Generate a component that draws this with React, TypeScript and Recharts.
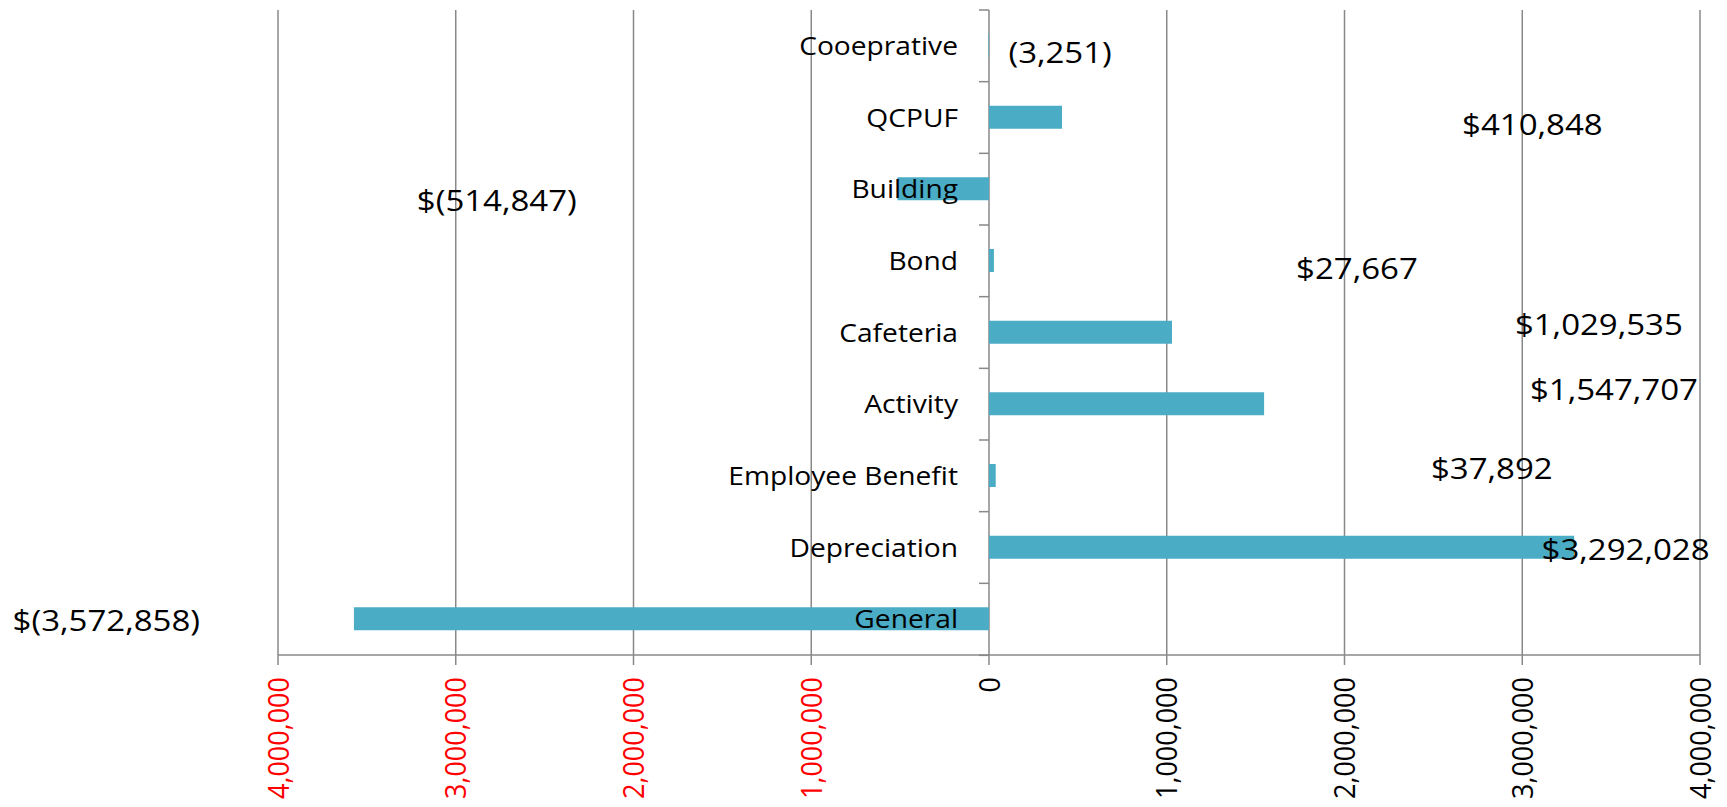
import React from 'react';
import { BarChart, Bar, XAxis, YAxis, CartesianGrid } from 'recharts';

// ---------- data ----------
const categories = [
  'Cooeprative',
  'QCPUF',
  'Building',
  'Bond',
  'Cafeteria',
  'Activity',
  'Employee Benefit',
  'Depreciation',
  'General',
];
const values = [-3251, 410848, -514847, 27667, 1029535, 1547707, 37892, 3292028, -3572858];
const valueLabels = [
  '(3,251)',
  '$410,848',
  '$(514,847)',
  '$27,667',
  '$1,029,535',
  '$1,547,707',
  '$37,892',
  '$3,292,028',
  '$(3,572,858)',
];
const xTicks = [-4000000, -3000000, -2000000, -1000000, 0, 1000000, 2000000, 3000000, 4000000];
const xTickLabels = [
  '4,000,000',
  '3,000,000',
  '2,000,000',
  '1,000,000',
  '0',
  '1,000,000',
  '2,000,000',
  '3,000,000',
  '4,000,000',
];

// ---------- layout of the hand-placed value labels (axis units / px nudge) ----------
const LABEL_LAYOUT = {
  anchorX: [400000, 3057000, -2769000, 2070000, 3431000, 3516000, 2829000, 3581000, -4966000],
  nudgeY: [6, 7, 11, 7, -8, -15, -8, 2, 1],
};

const data = categories.map((name, i) => ({ name, value: values[i] }));

const GRID = '#898989';
const BAR = '#4BACC6';
const FONT = '"Open Sans", sans-serif';
const STRETCH = 1.1;
const CAT_FS = 25.6;
const VAL_FS = 30;
const TICK_FS = 27;

const XTick = (props: any) => {
  const { x, y, payload, index } = props;
  const v = payload.value as number;
  const i = typeof index === 'number' ? index : xTicks.indexOf(v);
  const label = xTickLabels[i] ?? String(Math.abs(v));
  return (
    <text
      transform={`translate(${x},${y}) scale(${STRETCH},1) rotate(-90)`}
      textAnchor="end"
      dy="0.36em"
      fill={v < 0 ? '#FF0000' : '#000000'}
      fontSize={TICK_FS}
      fontFamily={FONT}
    >
      {label}
    </text>
  );
};

// Invisible full-band bar: draws category-axis ticks, category labels and value labels
const BandLayer = (props: any) => {
  const { x, y, width, height, index } = props;
  const v = values[index];
  let zero: number;
  let signed: number;
  if (v < 0 && width > 0) {
    zero = x + width;
    signed = -width;
  } else {
    zero = x;
    signed = width;
  }
  const pxPerUnit = v !== 0 ? signed / v : 0;
  const cy = y + height / 2;
  const labelX = zero + LABEL_LAYOUT.anchorX[index] * pxPerUnit;
  const labelY = cy + LABEL_LAYOUT.nudgeY[index];
  const isLast = index === values.length - 1;
  return (
    <g>
      <line x1={zero - 10} x2={zero} y1={y} y2={y} stroke={GRID} strokeWidth={1.5} />
      {isLast && (
        <line x1={zero - 10} x2={zero} y1={y + height} y2={y + height} stroke={GRID} strokeWidth={1.5} />
      )}
      <text
        transform={`translate(${zero - 31},${cy + CAT_FS * 0.357}) scale(${STRETCH},1)`}
        textAnchor="end"
        fontSize={CAT_FS}
        fontFamily={FONT}
        fill="#000000"
      >
        {categories[index]}
      </text>
      <text
        transform={`translate(${labelX},${labelY + VAL_FS * 0.357}) scale(${STRETCH},1)`}
        textAnchor="middle"
        fontSize={VAL_FS}
        fontFamily={FONT}
        fill="#000000"
      >
        {valueLabels[index]}
      </text>
    </g>
  );
};

export default function App() {
  return (
    <div style={{ width: 1711, height: 799, background: '#ffffff' }}>
      <BarChart
        layout="vertical"
        width={1711}
        height={799}
        data={data}
        margin={{ top: 2, right: 19, bottom: 0, left: 270 }}
        barCategoryGap={0}
        barGap={0}
      >
        <CartesianGrid horizontal={false} stroke={GRID} strokeWidth={1.5} />
        <XAxis
          type="number"
          domain={[-4000000, 4000000]}
          ticks={xTicks}
          interval={0}
          height={152}
          tickSize={10}
          tickMargin={12}
          axisLine={{ stroke: GRID, strokeWidth: 1.5 }}
          tickLine={{ stroke: GRID, strokeWidth: 1.5 }}
          tick={<XTick />}
        />
        <XAxis xAxisId="band" type="number" domain={[-4000000, 4000000]} hide />
        <YAxis type="category" dataKey="name" hide />
        <YAxis yAxisId="band" type="category" dataKey="name" hide />
        <Bar dataKey="value" fill={BAR} barSize={23} isAnimationActive={false} />
        <Bar
          xAxisId="band"
          yAxisId="band"
          dataKey="value"
          shape={BandLayer}
          isAnimationActive={false}
        />
      </BarChart>
    </div>
  );
}
